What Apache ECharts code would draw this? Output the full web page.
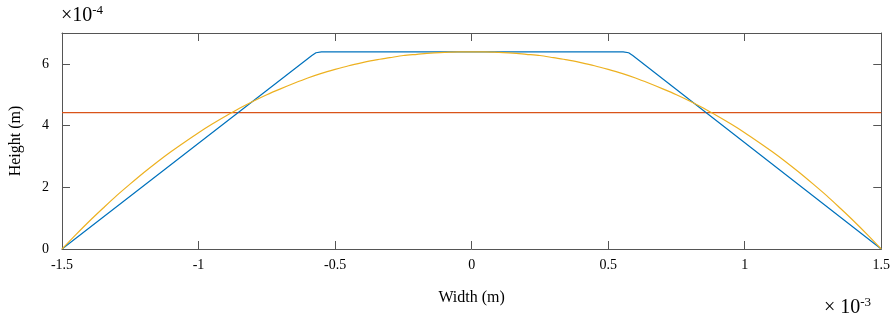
<!DOCTYPE html>
<html>
<head>
<meta charset="utf-8">
<script src="https://cdn.jsdelivr.net/npm/echarts@6/dist/echarts.min.js"></script>
<style>
  html, body { margin: 0; padding: 0; background: #fff; }
  #chart { width: 893px; height: 322px; }
</style>
</head>
<body>
<div id="chart"></div>
<script>
// x in units of 1e-3 m, y in units of 1e-4 m
const xTicks = [-1.5, -1, -0.5, 0, 0.5, 1, 1.5]
const yTicks = [0, 2, 4, 6]

// trapezoid profile (blue)
const trapX = [-1.5, -0.585, -0.57, -0.55, 0.555, 0.575, 0.59, 1.5]
const trapY = [0, 6.27, 6.36, 6.39, 6.39, 6.36, 6.27, 0]

// curved profile (yellow)
const curveX = [-1.5, -1.45, -1.4, -1.35, -1.3, -1.25, -1.2, -1.15, -1.1, -1.05, -1.0,
  -0.95, -0.9, -0.85, -0.8, -0.75, -0.7, -0.65, -0.6, -0.55, -0.5, -0.45, -0.4,
  -0.35, -0.3, -0.25, -0.2, -0.15, -0.1, -0.05, 0, 0.05, 0.1, 0.15, 0.2, 0.25,
  0.3, 0.35, 0.4, 0.45, 0.5, 0.55, 0.6, 0.65, 0.7, 0.75, 0.8, 0.85, 0.9, 0.95,
  1.0, 1.05, 1.1, 1.15, 1.2, 1.25, 1.3, 1.35, 1.4, 1.45, 1.5]
const curveY = [0, 0.46, 0.90, 1.32, 1.73, 2.11, 2.48, 2.83, 3.16, 3.47, 3.77,
  4.05, 4.31, 4.56, 4.79, 5.00, 5.19, 5.37, 5.54, 5.69, 5.82, 5.94, 6.04,
  6.13, 6.20, 6.27, 6.31, 6.35, 6.37, 6.39, 6.39, 6.39, 6.37, 6.35, 6.31, 6.27,
  6.20, 6.13, 6.04, 5.94, 5.82, 5.69, 5.54, 5.37, 5.19, 5.00, 4.79, 4.56, 4.31, 4.05,
  3.77, 3.47, 3.16, 2.83, 2.48, 2.11, 1.73, 1.32, 0.90, 0.46, 0]

// mean height (red)
const meanX = [-1.5, 1.5]
const meanY = [4.42, 4.42]

const zip = (xs, ys) => xs.map((x, i) => [x, ys[i]])

const font = 'Liberation Serif, Times New Roman, serif'
const boxColor = '#555555'

const chart = echarts.init(document.getElementById('chart'))

const xBase = {
  type: 'value',
  min: -1.5,
  max: 1.5,
  interval: 0.5,
  axisLine: { show: true, onZero: false, lineStyle: { color: boxColor, width: 1 } },
  axisTick: { show: true, inside: true, length: 8, lineStyle: { color: boxColor } },
  splitLine: { show: false }
}
const yBase = {
  type: 'value',
  min: 0,
  max: 7,
  interval: 2,
  axisLine: { show: true, onZero: false, lineStyle: { color: boxColor, width: 1 } },
  axisTick: { show: true, inside: true, length: 8, customValues: yTicks, lineStyle: { color: boxColor } },
  splitLine: { show: false }
}

const supStyle = { fontFamily: font, fontSize: 13, verticalAlign: 'top', padding: [0, 0, 10, 0] }

const option = {
  animation: false,
  grid: { left: 61, right: 8, top: 33, bottom: 73, containLabel: false },
  xAxis: [
    Object.assign({}, xBase, {
      position: 'bottom',
      name: 'Width (m)',
      nameLocation: 'middle',
      nameGap: 41,
      nameTextStyle: { fontFamily: font, fontSize: 16, color: '#000' },
      axisLabel: { show: true, fontFamily: font, fontSize: 14, color: '#000', margin: 9 }
    }),
    Object.assign({}, xBase, { position: 'top', axisLabel: { show: false } })
  ],
  yAxis: [
    Object.assign({}, yBase, {
      position: 'left',
      name: 'Height (m)',
      nameLocation: 'middle',
      nameGap: 38,
      nameTextStyle: { fontFamily: font, fontSize: 16, color: '#000' },
      axisLabel: { show: true, customValues: yTicks, fontFamily: font, fontSize: 14, color: '#000', margin: 13 }
    }),
    Object.assign({}, yBase, { position: 'right', axisLabel: { show: false } })
  ],
  series: [
    {
      type: 'line',
      data: zip(trapX, trapY),
      showSymbol: false,
      lineStyle: { color: '#0072BD', width: 1.2 },
      z: 3
    },
    {
      type: 'line',
      data: zip(meanX, meanY),
      showSymbol: false,
      lineStyle: { color: '#D95319', width: 1.2 },
      z: 2
    },
    {
      type: 'line',
      data: zip(curveX, curveY),
      showSymbol: false,
      smooth: 0.3,
      lineStyle: { color: '#EDB120', width: 1.2 },
      z: 4
    }
  ],
  graphic: [
    {
      type: 'text',
      left: 61,
      top: 4,
      style: {
        text: '×10{sup|-4}',
        fontFamily: font,
        fontSize: 20,
        fill: '#000',
        rich: { sup: supStyle }
      }
    },
    {
      type: 'text',
      left: 824,
      top: 296,
      style: {
        text: '× 10{sup|-3}',
        fontFamily: font,
        fontSize: 20,
        fill: '#000',
        rich: { sup: supStyle }
      }
    }
  ]
}

chart.setOption(option)
</script>
</body>
</html>
